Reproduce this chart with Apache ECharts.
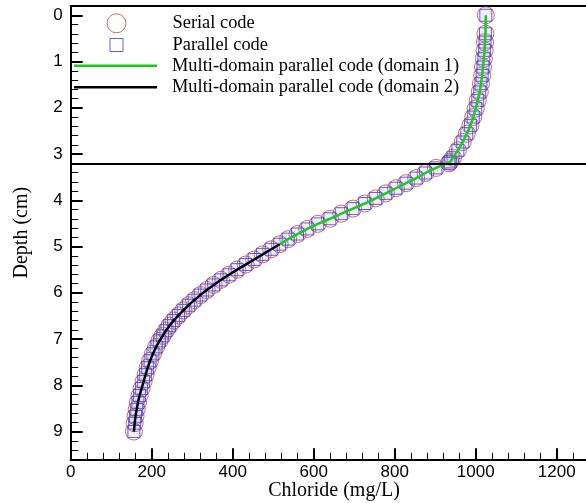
<!DOCTYPE html>
<html>
<head>
<meta charset="utf-8">
<script src="https://cdn.jsdelivr.net/npm/echarts@6/dist/echarts.min.js"></script>
<style>html,body{margin:0;padding:0;background:#fff}#c{width:586px;height:503px}</style>
</head>
<body>
<div id="c"></div>
<script>
// Depth (cm) of each plotted node
var depth = [0.00,0.40,0.58,0.76,0.94,1.12,1.30,1.48,1.66,1.84,2.02,2.20,2.38,2.56,2.74,2.92,3.08,3.17,3.20,3.30,3.41,3.52,3.63,3.74,3.85,3.96,4.07,4.18,4.29,4.40,4.51,4.62,4.73,4.84,4.95,5.06,5.17,5.28,5.39,5.50,5.61,5.72,5.83,5.94,6.05,6.16,6.27,6.38,6.49,6.60,6.71,6.82,6.93,7.04,7.17,7.32,7.47,7.62,7.77,7.92,8.07,8.22,8.37,8.52,8.67,8.82,9.00];
// Chloride (mg/L), serial code
var serial = [1025,1024,1023,1022,1020,1018,1016,1013,1010,1005,1000,994,987,978,968,956,944,937,934,902,876,853,828,803,778,753,726,697,668,640,610,584,560,537,516,495,474,453,432,411,391,371,353,336,320,305,291,278,266,254,244,235,227,219,211,203,196,190,185,180,175,170,166,163,160,158,156];
// Chloride (mg/L), parallel code
var parallel = [1025,1024,1023,1022,1020,1018,1016,1013,1010,1005,1000,994,987,978,968,956,944,937,934,902,876,853,828,803,778,753,726,697,668,640,610,584,560,537,516,495,474,453,432,411,391,371,353,336,320,305,291,278,266,254,244,235,227,219,211,203,196,190,185,180,175,170,166,163,160,158,156];
// Multi-domain parallel code (same nodes); domain 1 ends / domain 2 starts at this depth
var domainSplitDepth = 4.95;
var boundaryDepth = 3.2;
var names = ['Serial code','Parallel code','Multi-domain parallel code (domain 1)','Multi-domain parallel code (domain 2)'];
var xTicks = {min:0, max:1400, interval:200, minor:40};
var yTicks = {min:-0.2, max:9.6, interval:1, minor:0.2};

function pairs(xs){ return xs.map(function(v,i){ return [v, depth[i]]; }); }
var dom1 = [], dom2 = [];
for (var i=0;i<depth.length;i++){
  if (depth[i] <= domainSplitDepth) dom1.push([parallel[i], depth[i]]);
  if (depth[i] >= domainSplitDepth) dom2.push([parallel[i], depth[i]]);
}

var SERIF = '"Liberation Serif","Times New Roman",serif';
var SANS = '"Liberation Sans",Arial,sans-serif';
var L = 70.7, R = -51.7, B = 43.7, T = 6;
var yPx = (459.3 - 6) / (yTicks.max - yTicks.min);
var T2 = T + (0 - yTicks.min) * yPx;
var TEXT_X = 172;

var chart = echarts.init(document.getElementById('c'), null, {renderer:'canvas'});
function legendItem(name, cx, cy, w, h, icon, itemStyle){
  var d = {name:name};
  if (icon) d.icon = icon;
  if (itemStyle) d.itemStyle = itemStyle;
  var left = cx - w/2;
  return {data:[d], left:left, top:cy - 10, orient:'vertical', padding:0, itemWidth:w, itemHeight:h,
    selectedMode:false, symbolKeepAspect:true,
    textStyle:{fontFamily:SERIF, fontSize:18.4, color:'#000', lineHeight:20,
      padding:[0,0,0,TEXT_X - (left + w + 5)]}};
}
chart.setOption({
  animation:false,
  backgroundColor:'#fff',
  grid:[
    {left:L, right:R, top:T, bottom:B, containLabel:false, outerBoundsMode:'none'},
    {left:L, right:R, top:T2, bottom:B, containLabel:false, outerBoundsMode:'none'}
  ],
  xAxis:[
    {gridIndex:0, type:'value', position:'bottom', min:xTicks.min, max:xTicks.max, interval:xTicks.interval,
      axisLine:{show:true, onZero:false, lineStyle:{color:'#000', width:2}},
      axisTick:{show:true, inside:true, length:11, lineStyle:{color:'#000', width:2}},
      axisLabel:{show:true, margin:5, fontFamily:SANS, fontSize:17, color:'#000',
        formatter:function(v){ return String(v); }},
      splitLine:{show:false}},
    {gridIndex:0, type:'value', position:'bottom', min:xTicks.min, max:xTicks.max, interval:xTicks.minor,
      axisLine:{show:false, onZero:false},
      axisTick:{show:true, inside:true, length:6.5, lineStyle:{color:'#000', width:1}},
      axisLabel:{show:false}, splitLine:{show:false}},
    {gridIndex:0, type:'value', position:'top', min:xTicks.min, max:xTicks.max,
      axisLine:{show:true, onZero:false, lineStyle:{color:'#000', width:2}},
      axisTick:{show:false}, axisLabel:{show:false}, splitLine:{show:false}},
    {gridIndex:1, type:'value', show:false, min:xTicks.min, max:xTicks.max}
  ],
  yAxis:[
    {gridIndex:0, type:'value', position:'left', inverse:true, min:yTicks.min, max:yTicks.max,
      name:'Depth (cm)', nameLocation:'middle', nameGap:39,
      nameTextStyle:{fontFamily:SERIF, fontSize:20, color:'#000'},
      axisLine:{show:true, onZero:false, lineStyle:{color:'#000', width:2}},
      axisTick:{show:false}, axisLabel:{show:false}, splitLine:{show:false}},
    {gridIndex:1, type:'value', position:'left', inverse:true, min:0, max:yTicks.max, interval:yTicks.interval,
      axisLine:{show:false, onZero:false},
      axisTick:{show:true, inside:true, length:12, lineStyle:{color:'#000', width:2}},
      axisLabel:{show:true, margin:8, showMaxLabel:false, fontFamily:SANS, fontSize:17, color:'#000'},
      splitLine:{show:false}},
    {gridIndex:1, type:'value', position:'left', inverse:true, min:0, max:yTicks.max, interval:yTicks.minor,
      axisLine:{show:false, onZero:false},
      axisTick:{show:true, inside:true, length:7.5, lineStyle:{color:'#000', width:1}},
      axisLabel:{show:false}, splitLine:{show:false}}
  ],
  legend:[
    legendItem(names[0], 116, 23.3, 19, 19, 'circle', {color:'rgba(0,0,0,0)', borderColor:'#bf4646', borderWidth:1}),
    legendItem(names[1], 116, 45, 13, 13, 'rect', {color:'rgba(0,0,0,0)', borderColor:'#3a3acc', borderWidth:1}),
    legendItem(names[2], 115.5, 65.7, 83, 2.6, 'rect', {color:'#1ec81e', borderWidth:0}),
    legendItem(names[3], 115.5, 87.3, 83, 2.6, 'rect', {color:'#000', borderWidth:0})
  ],
  graphic:[
    {type:'text', x:334, y:491, style:{text:'Chloride (mg/L)', font:'20px '+SERIF, fill:'#000', textAlign:'center', textVerticalAlign:'middle'}}
  ],
  series:[
    {name:names[0], type:'scatter', xAxisIndex:0, yAxisIndex:0, data:pairs(serial),
      symbol:'circle', symbolSize:17,
      itemStyle:{color:'rgba(0,0,0,0)', borderColor:'#bf4646', borderWidth:1},
      emphasis:{disabled:true},
      markLine:{silent:true, symbol:['none','none'], label:{show:false},
        lineStyle:{color:'#000', width:2, type:'solid'}, data:[{yAxis:boundaryDepth}]}},
    {name:names[1], type:'scatter', xAxisIndex:0, yAxisIndex:0, data:pairs(parallel),
      symbol:'rect', symbolSize:12,
      itemStyle:{color:'rgba(160,160,225,0.22)', borderColor:'#3a3acc', borderWidth:1},
      emphasis:{disabled:true}},
    {name:names[2], type:'line', xAxisIndex:0, yAxisIndex:0, data:dom1, symbol:'none', showSymbol:false,
      lineStyle:{color:'#1ec81e', width:2.5}, itemStyle:{color:'#1ec81e'}, emphasis:{disabled:true}},
    {name:names[3], type:'line', xAxisIndex:0, yAxisIndex:0, data:dom2, symbol:'none', showSymbol:false,
      lineStyle:{color:'#000', width:2.5}, itemStyle:{color:'#000'}, emphasis:{disabled:true}}
  ]
});
</script>
</body>
</html>
